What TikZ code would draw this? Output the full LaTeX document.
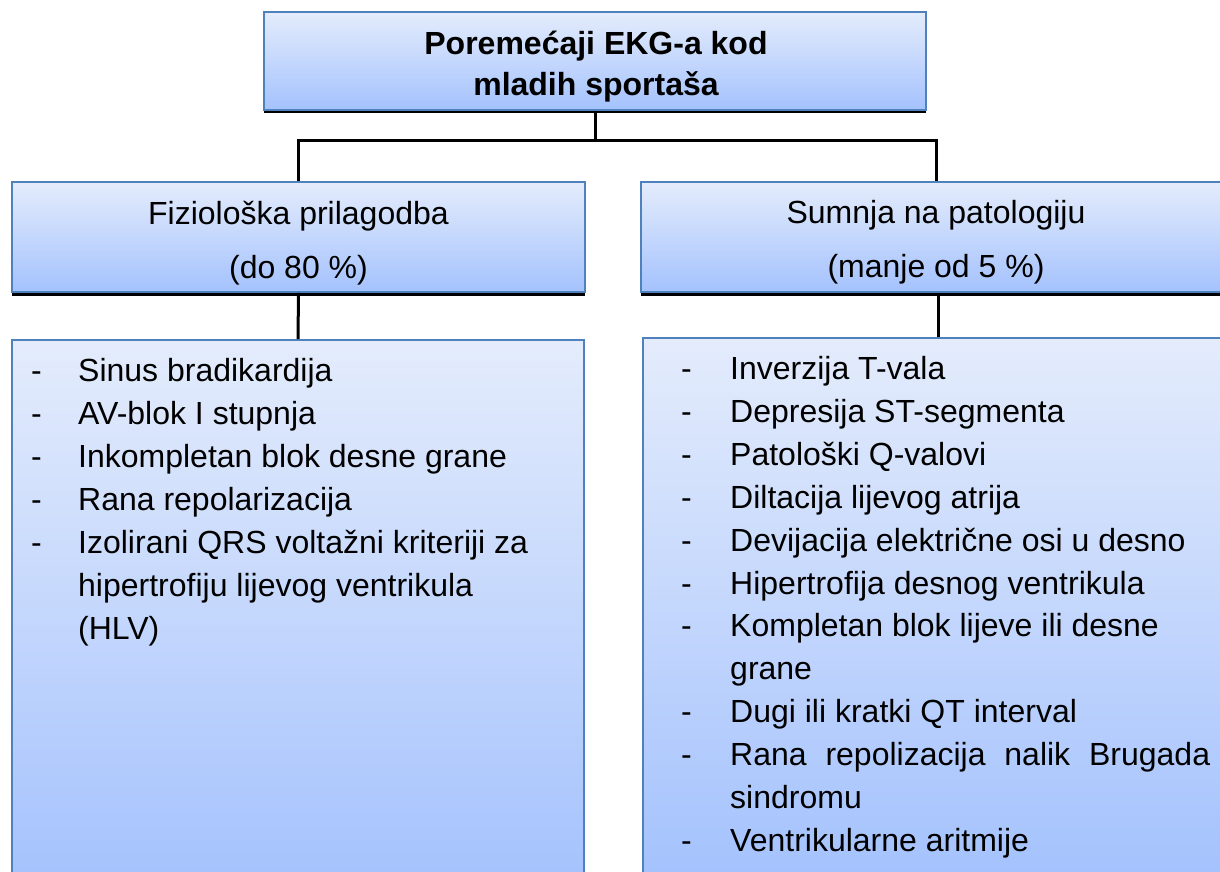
\documentclass[tikz,border=0pt]{standalone}
\usepackage{fontspec}
\setmainfont{Liberation Sans}
\usetikzlibrary{shadows}
\definecolor{bordc}{HTML}{4F81BD}
\definecolor{gtop}{HTML}{E4ECFC}
\definecolor{gbot}{HTML}{A4C2FD}
\tikzset{
  box/.style={draw=bordc, line width=1.6pt, top color=gtop, bottom color=gbot, inner sep=0pt},
  shadowbox/.style={box, drop shadow={shadow xshift=0pt, shadow yshift=-3.5pt, fill=black, opacity=1}},
  conn/.style={draw=black, line width=3pt},
  txt/.style={anchor=base, inner sep=0pt, font=\fontsize{32}{40}\selectfont},
  titletxt/.style={txt, font=\fontsize{32}{40}\selectfont\bfseries},
  item/.style={anchor=base west, inner sep=0pt, font=\fontsize{32}{43}\selectfont},
}
\begin{document}
\begin{tikzpicture}[x=1pt,y=-1pt]
\useasboundingbox (0,0) rectangle (1220,872);
% boxes
\node[shadowbox, minimum width=662pt, minimum height=98pt] (top) at (595,61) {};
\node[shadowbox, minimum width=573pt, minimum height=110pt] (mleft) at (298.5,237) {};
\node[shadowbox, minimum width=590pt, minimum height=110pt] (mright) at (936,237) {};
\node[box, minimum width=572pt, minimum height=545pt] (lleft) at (298,612.5) {};
\node[box, minimum width=590pt, minimum height=536pt] (lright) at (938,606) {};
% connectors
\coordinate (j) at (595,140);
\draw[conn] (top.south) -- (j);
\draw[conn] (j) -| (mleft.north);
\draw[conn] (j) -| (mright.north);
\draw[conn] (mleft.south) -- (lleft.north);
\draw[conn] (lright.north |- mright.south) -- (lright.north);
% titles
\node[titletxt] (t1) at (596,55) {Poremećaji EKG-a kod};
\node[titletxt] (t2) at (596,96) {mladih sportaša};
\node[txt] (ml1) at (298.5,224.5) {Fiziološka prilagodba};
\node[txt] (ml2) at (298.5,278.5) {(do 80 \%)};
\node[txt] (mr1) at (936,223) {Sumnja na patologiju};
\node[txt] (mr2) at (936,277) {(manje od 5 \%)};
% left list
\node[item] (ld1) at (31,381) {-};
\node[item] (li1) at (78,381) {Sinus bradikardija};
\node[item] (ld2) at (31,424) {-};
\node[item] (li2) at (78,424) {AV-blok I stupnja};
\node[item] (ld3) at (31,467) {-};
\node[item] (li3) at (78,467) {Inkompletan blok desne grane};
\node[item] (ld4) at (31,510) {-};
\node[item] (li4) at (78,510) {Rana repolarizacija};
\node[item] (ld5) at (31,553) {-};
\node[item] (li5) at (78,553) {Izolirani QRS voltažni kriteriji za};
\node[item] (li6) at (78,596) {hipertrofiju lijevog ventrikula};
\node[item] (li7) at (78,639) {(HLV)};
% right list
\node[item] (rd1) at (681,379.5) {-};
\node[item] (ri1) at (730,379.5) {Inverzija T-vala};
\node[item] (rd2) at (681,422.4) {-};
\node[item] (ri2) at (730,422.4) {Depresija ST-segmenta};
\node[item] (rd3) at (681,465.3) {-};
\node[item] (ri3) at (730,465.3) {Patološki Q-valovi};
\node[item] (rd4) at (681,508.2) {-};
\node[item] (ri4) at (730,508.2) {Diltacija lijevog atrija};
\node[item] (rd5) at (681,551.1) {-};
\node[item] (ri5) at (730,551.1) {Devijacija električne osi u desno};
\node[item] (rd6) at (681,594) {-};
\node[item] (ri6) at (730,594) {Hipertrofija desnog ventrikula};
\node[item] (rd7) at (681,636.9) {-};
\node[item] (ri7) at (730,636.9) {Kompletan blok lijeve ili desne};
\node[item] (ri8) at (730,679.8) {grane};
\node[item] (rd9) at (681,722.7) {-};
\node[item] (ri9) at (730,722.7) {Dugi ili kratki QT interval};
\node[item] (rd10) at (681,765.6) {-};
\node[item] (ri10) at (730,765.6) {\makebox[480pt][s]{Rana repolizacija nalik Brugada}};
\node[item] (ri11) at (730,808.5) {sindromu};
\node[item] (rd12) at (681,851.4) {-};
\node[item] (ri12) at (730,851.4) {Ventrikularne aritmije};
\end{tikzpicture}
\end{document}
